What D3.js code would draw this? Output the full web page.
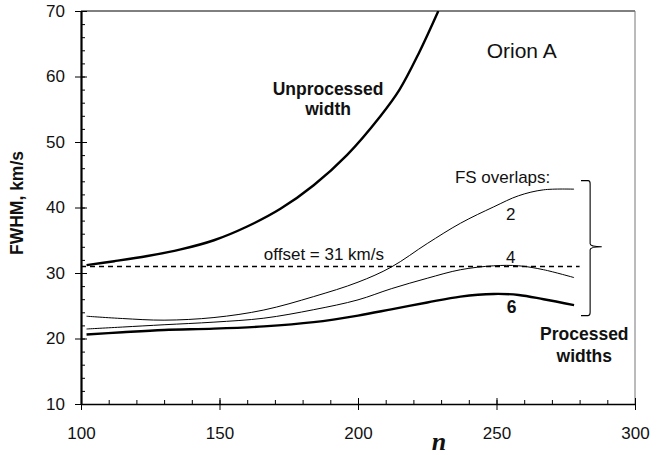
<!DOCTYPE html>
<html>
<head>
<meta charset="utf-8">
<script src="https://cdn.jsdelivr.net/npm/d3@7"></script>
<style>
  body { margin: 0; background: #fff; }
  text { font-family: "Liberation Sans", Arial, Helvetica, sans-serif; fill: #111; }
</style>
</head>
<body>
<div id="chart"></div>
<script>
// values
var nUnprocessed = [102, 112, 124, 136, 148, 160, 172, 184, 196, 208, 215, 222, 229];
var unprocessed  = [31.2, 31.8, 32.6, 33.6, 35.0, 37.1, 39.8, 43.4, 48.0, 53.9, 58.0, 63.6, 70.0];

var nProcessed = [102, 115, 130, 148, 166, 184, 200, 212, 225, 237, 249, 258, 267, 278];
var overlap2 = [23.4, 23.05, 22.8, 23.2, 24.35, 26.4, 28.6, 30.9, 34.5, 37.6, 40.1, 41.8, 42.7, 42.8];
var overlap4 = [21.45, 21.75, 22.1, 22.5, 23.1, 24.4, 25.9, 27.6, 29.2, 30.5, 31.1, 31.1, 30.5, 29.3];
var overlap6 = [20.6, 20.95, 21.3, 21.5, 21.85, 22.5, 23.5, 24.45, 25.5, 26.4, 26.8, 26.65, 26.0, 25.1];

var offset = 31;
var offsetRange = [100, 280];

var xTicks = [100, 150, 200, 250, 300];
var yTicks = [10, 20, 30, 40, 50, 60, 70];

// Set the dimensions and margins of the graph
var margin = {top: 11, right: 28, bottom: 51, left: 81},
    width = 663 - margin.left - margin.right,
    height = 455 - margin.top - margin.bottom;

var svg = d3.select("#chart")
  .append("svg")
    .attr("width", width + margin.left + margin.right)
    .attr("height", height + margin.top + margin.bottom)
  .append("g")
    .attr("transform", "translate(" + margin.left + "," + margin.top + ")");

var x = d3.scaleLinear().domain([100, 300]).range([0, width]);
var y = d3.scaleLinear().domain([10, 70]).range([height, 0]);

// frame: top black, right grey
svg.append("line").attr("x1", 0).attr("x2", width).attr("y1", 0).attr("y2", 0)
  .attr("stroke", "#000").attr("stroke-width", 1);
svg.append("line").attr("x1", width).attr("x2", width).attr("y1", 0).attr("y2", height)
  .attr("stroke", "#777").attr("stroke-width", 1);

// minor ticks (inside)
svg.append("g")
  .attr("transform", "translate(0," + height + ")")
  .call(d3.axisBottom(x).tickValues(d3.range(100, 301, 10)).tickSize(-4).tickFormat(""))
  .call(g => g.select(".domain").remove());
svg.append("g")
  .call(d3.axisLeft(y).tickValues(d3.range(10, 71, 2)).tickSize(-4).tickFormat(""))
  .call(g => g.select(".domain").remove());

// major ticks inside part
svg.append("g")
  .attr("transform", "translate(0," + height + ")")
  .call(d3.axisBottom(x).tickValues(xTicks).tickSize(-6).tickFormat(""))
  .call(g => g.select(".domain").remove());
svg.append("g")
  .call(d3.axisLeft(y).tickValues(yTicks).tickSize(-6).tickFormat(""))
  .call(g => g.select(".domain").remove());

// x axis
var xAxis = svg.append("g")
  .attr("transform", "translate(0," + height + ")")
  .call(d3.axisBottom(x).tickValues(xTicks).tickSize(6).tickSizeOuter(0).tickPadding(17));
xAxis.select(".domain").attr("stroke-width", 1.6);
xAxis.selectAll("text").attr("font-size", 17).attr("font-family", "Liberation Sans, Arial, sans-serif");

// y axis
var yAxis = svg.append("g")
  .call(d3.axisLeft(y).tickValues(yTicks).tickSize(6).tickSizeOuter(0).tickPadding(10));
yAxis.select(".domain").attr("stroke-width", 2.2);
yAxis.selectAll("text").attr("font-size", 17).attr("font-family", "Liberation Sans, Arial, sans-serif");

svg.selectAll(".tick line").attr("stroke", "#000");

// clip to plot area
svg.append("clipPath").attr("id", "plot")
  .append("rect").attr("width", width).attr("height", height);

var line = d3.line()
  .x(d => x(d[0]))
  .y(d => y(d[1]))
  .curve(d3.curveCatmullRom.alpha(0.5));

var curves = [
  {n: nUnprocessed, v: unprocessed, w: 2.4},
  {n: nProcessed, v: overlap2, w: 1},
  {n: nProcessed, v: overlap4, w: 1},
  {n: nProcessed, v: overlap6, w: 2.4}
];

svg.append("g").attr("clip-path", "url(#plot)")
  .selectAll("path")
  .data(curves)
  .join("path")
    .attr("fill", "none")
    .attr("stroke", "#000")
    .attr("stroke-width", d => d.w)
    .attr("d", d => line(d3.zip(d.n, d.v)));

// offset line
svg.append("line")
  .attr("x1", x(offsetRange[0])).attr("x2", x(offsetRange[1]))
  .attr("y1", y(offset)).attr("y2", y(offset))
  .attr("stroke", "#000")
  .attr("stroke-width", 1.4)
  .attr("stroke-dasharray", "5,4");

// brace on the right
var bx0 = x(280.5), bx1 = x(283.8), bx2 = x(288),
    bTop = y(44.1), bMid = y(34.0), bBot = y(23.5);
svg.append("path")
  .attr("fill", "none")
  .attr("stroke", "#000")
  .attr("stroke-width", 1.1)
  .attr("d",
    "M" + bx0 + "," + bTop +
    " L" + (bx1 - 2) + "," + bTop +
    " Q" + bx1 + "," + bTop + " " + bx1 + "," + (bTop + 3) +
    " L" + bx1 + "," + (bMid - 3) +
    " Q" + bx1 + "," + bMid + " " + bx2 + "," + bMid +
    " Q" + bx1 + "," + bMid + " " + bx1 + "," + (bMid + 3) +
    " L" + bx1 + "," + (bBot - 3) +
    " Q" + bx1 + "," + bBot + " " + (bx1 - 2) + "," + bBot +
    " L" + bx0 + "," + bBot);

// annotations
function label(txt, n, v, size, bold) {
  svg.append("text")
    .attr("x", x(n)).attr("y", y(v))
    .attr("text-anchor", "middle")
    .attr("font-size", size)
    .attr("font-weight", bold ? "bold" : "normal")
    .text(txt);
}
label("Orion A", 259.1, 62.8, 21, false);
label("Unprocessed", 189.2, 57.2, 17.5, true);
label("width", 189.2, 54.1, 17.5, true);
label("FS overlaps:", 252.2, 43.7, 17, false);
label("2", 255.1, 38.1, 17, false);
label("4", 255.1, 31.6, 17, false);
label("6", 255.5, 23.9, 17.5, true);
label("offset = 31 km/s", 187.7, 32.0, 17, false);
label("Processed", 281.7, 19.8, 17.5, true);
label("widths", 281.7, 16.4, 17.5, true);

// axis titles
svg.append("text")
  .attr("transform", "translate(" + (23 - margin.left) + "," + (203 - margin.top) + ") rotate(-90)")
  .attr("text-anchor", "middle")
  .attr("font-size", 17.5)
  .attr("font-weight", "bold")
  .text("FWHM, km/s");

svg.append("text")
  .attr("x", 439 - margin.left)
  .attr("y", 450 - margin.top)
  .attr("text-anchor", "middle")
  .attr("font-size", 26)
  .attr("font-weight", "bold")
  .attr("font-style", "italic")
  .style("font-family", "'Liberation Serif', 'Times New Roman', serif")
  .text("n");
</script>
</body>
</html>
